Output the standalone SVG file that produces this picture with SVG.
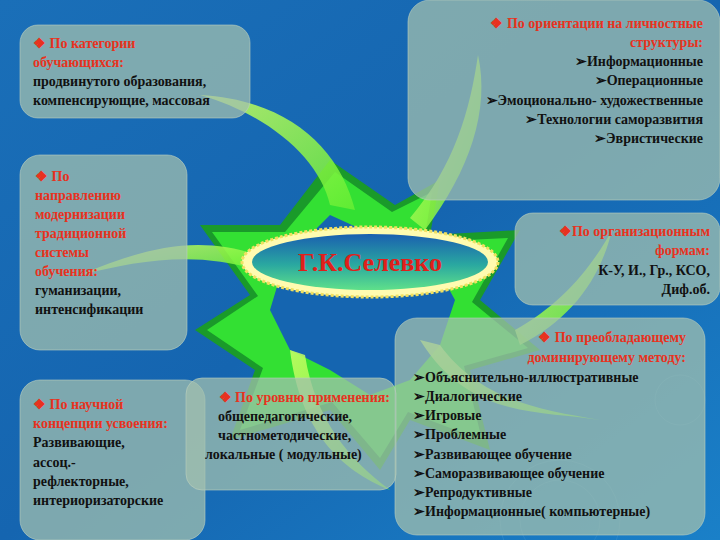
<svg xmlns="http://www.w3.org/2000/svg" width="720" height="540" viewBox="0 0 720 540">
<defs>
<linearGradient id="bg" x1="0" y1="0" x2="1" y2="1"><stop offset="0" stop-color="#1a6fb8"/><stop offset="0.5" stop-color="#1565b0"/><stop offset="1" stop-color="#1a80c8"/></linearGradient>
<linearGradient id="ell" x1="0" y1="0" x2="0" y2="1"><stop offset="0" stop-color="#1a5fb0"/><stop offset="0.55" stop-color="#2aa8a0"/><stop offset="1" stop-color="#5fe08a"/></linearGradient>
<linearGradient id="arr" x1="0" y1="0" x2="1" y2="1"><stop offset="0" stop-color="#ccff66"/><stop offset="1" stop-color="#66ee33"/></linearGradient>
<style>
.box{fill:#a2bfae;fill-opacity:0.74;stroke:#bcd0c0;stroke-opacity:0.6}
text{font-family:"Liberation Serif",serif;font-weight:bold;font-size:14px}
.h{fill:#e8321e}
.b{fill:#111}
.r{text-anchor:end}
.sw{fill:url(#arr);opacity:0.85}
</style>
</defs>
<rect width="720" height="540" fill="url(#bg)"/>
<g fill="none" stroke="#3a90d0" stroke-opacity="0.5">
<circle cx="560" cy="520" r="40"/><circle cx="560" cy="520" r="60"/><circle cx="680" cy="400" r="25"/>
</g>
<g id="star">
<path d="M330 160 L395 205 L440 180 L430 235 L520 230 L480 300 L540 350 L470 370 L490 450 L410 420 L380 470 L330 410 L230 440 L255 370 L195 330 L250 295 L200 225 L280 225 Z" fill="#1a9a2a"/>
<path d="M335 172 L392 212 L432 192 L424 242 L508 238 L472 302 L528 348 L464 366 L482 440 L408 412 L380 458 L332 402 L240 430 L263 368 L207 330 L258 296 L212 232 L285 232 Z" fill="#33e033"/>
<path d="M330 215 L385 240 L430 255 L455 300 L440 345 L410 380 L370 395 L330 370 L290 350 L270 310 L285 260 Z" fill="#1565b0"/>
<path d="M200 95 C290 100 340 150 355 210 L330 205 C320 160 270 115 200 95 Z" class="sw"/>
<path d="M478 55 C490 110 470 170 425 230 L410 218 C455 165 470 110 478 55 Z" class="sw"/>
<path d="M612 230 C600 280 570 320 520 345 L515 330 C560 305 590 270 612 230 Z" class="sw"/>
<path d="M600 420 C540 410 470 420 420 340 L440 345 C480 400 540 410 600 420 Z" class="sw"/>
<path d="M390 490 C340 470 300 430 290 350 L305 355 C315 420 350 460 390 490 Z" class="sw"/>
<path d="M80 275 C140 250 200 230 270 260 L262 272 C200 250 140 260 80 275 Z" class="sw"/>
</g>
<g id="center">
<ellipse cx="370" cy="262" rx="128" ry="35" fill="#fffbb0" stroke="#f0e060" stroke-width="3" stroke-dasharray="3 2"/>
<ellipse cx="370" cy="262" rx="118" ry="28" fill="url(#ell)"/>
<text x="370" y="271" text-anchor="middle" style="font-size:26px" fill="#e0201a">Г.К.Селевко</text>
</g>
<g id="n1"><rect class="box" x="20" y="25" width="230" height="93" rx="18"/>
<text x="33" y="48" class="h">❖ По категории</text><text x="33" y="67" class="h">обучающихся:</text>
<text x="33" y="86" class="b">продвинутого образования,</text><text x="33" y="105" class="b">компенсирующие, массовая</text></g>
<g id="n2"><rect class="box" x="408" y="0" width="312" height="200" rx="22"/>
<text x="703" y="28" class="h r">❖   По ориентации на личностные</text><text x="703" y="47" class="h r">структуры:</text>
<text x="703" y="66" class="b r">➢Информационные</text><text x="703" y="85" class="b r">➢Операционные</text>
<text x="703" y="105" class="b r">➢Эмоционально- художественные</text><text x="703" y="124" class="b r">➢Технологии саморазвития</text>
<text x="703" y="143" class="b r">➢Эвристические</text></g>
<g id="n3"><rect class="box" x="20" y="155" width="167" height="195" rx="20"/>
<text x="35" y="181" class="h">❖ По</text><text x="35" y="200" class="h">направлению</text><text x="35" y="219" class="h">модернизации</text>
<text x="35" y="238" class="h">традиционной</text><text x="35" y="257" class="h">системы</text><text x="35" y="276" class="h">обучения:</text>
<text x="35" y="295" class="b">гуманизации,</text><text x="35" y="314" class="b">интенсификации</text></g>
<g id="n4"><rect class="box" x="515" y="213" width="205" height="92" rx="18"/>
<text x="710" y="236" class="h r">❖По организационным</text><text x="710" y="255" class="h r">формам:</text>
<text x="710" y="275" class="b r">К-У, И., Гр., КСО,</text><text x="710" y="294" class="b r">Диф.об.</text></g>
<g id="n5"><rect class="box" x="395" y="318" width="310" height="217" rx="22"/>
<text x="686" y="342" class="h r">❖ По преобладающему</text><text x="686" y="362" class="h r">доминирующему методу:</text>
<text x="413" y="382" class="b">➢Объяснительно-иллюстративные</text><text x="413" y="401" class="b">➢Диалогические</text>
<text x="413" y="420" class="b">➢Игровые</text><text x="413" y="439" class="b">➢Проблемные</text>
<text x="413" y="459" class="b">➢Развивающее обучение</text><text x="413" y="478" class="b">➢Саморазвивающее обучение</text>
<text x="413" y="497" class="b">➢Репродуктивные</text><text x="413" y="516" class="b">➢Информационные( компьютерные)</text></g>
<g id="n6"><rect class="box" x="20" y="380" width="185" height="160" rx="20"/>
<text x="33" y="409" class="h">❖ По научной</text><text x="33" y="428" class="h">концепции усвоения:</text>
<text x="33" y="447" class="b">Развивающие,</text><text x="33" y="467" class="b"> ассоц.-</text>
<text x="33" y="486" class="b">рефлекторные,</text><text x="33" y="505" class="b">интериоризаторские</text></g>
<g id="n7"><rect class="box" x="186" y="378" width="210" height="112" rx="16"/>
<text x="390" y="402" class="h r">❖ По уровню применения:</text>
<text x="218" y="421" class="b">общепедагогические,</text><text x="218" y="440" class="b">частнометодические,</text>
<text x="205" y="459" class="b">локальные ( модульные)</text></g>
</svg>
